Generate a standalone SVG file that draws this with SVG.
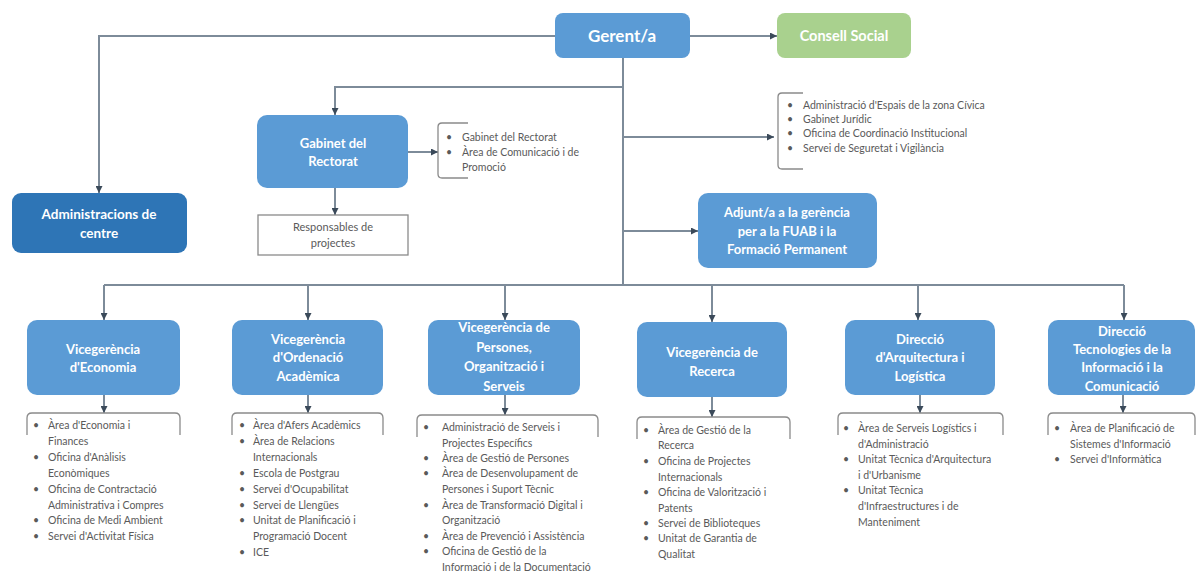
<svg xmlns="http://www.w3.org/2000/svg" width="1197" height="574" viewBox="0 0 1197 574">
<style>
.box{fill:#5b9bd5}
.dark{fill:#2e75b6}
.green{fill:#a9d18e}
.t{font-family:Lato,"Open Sans","Liberation Sans",sans-serif;font-weight:bold;fill:#ffffff;text-anchor:middle;font-size:13px}
.li{font-family:Lato,"Open Sans","Liberation Sans",sans-serif;fill:#5a5a5a;font-size:10.5px}
.con{fill:none;stroke:#7d8b99;stroke-width:2}
.br{fill:none;stroke:#8a8a8a;stroke-width:1.3}
.wbox{fill:#ffffff;stroke:#8a8a8a;stroke-width:1.3}
</style>
<defs>
<marker id="ah" viewBox="0 0 10 10" refX="10" refY="5" markerWidth="7" markerHeight="7" markerUnits="userSpaceOnUse" orient="auto">
<path d="M0,0 L10,5 L0,10 z" fill="#3b4a5a"/>
</marker>
</defs>
<rect width="1197" height="574" fill="#ffffff"/>
<g id="connectors">
<path class="con" d="M555,36 L99,36 L99,193" marker-end="url(#ah)"/>
<path class="con" d="M690,36 L777,36" marker-end="url(#ah)"/>
<path class="con" d="M623,58 L623,285"/>
<path class="con" d="M623,87 L335,87 L335,115" marker-end="url(#ah)"/>
<path class="con" d="M623,137 L774,137" marker-end="url(#ah)"/>
<path class="con" d="M623,231 L698,231" marker-end="url(#ah)"/>
<path class="con" d="M408,152 L438,152" marker-end="url(#ah)"/>
<path class="con" d="M335,188 L335,215" marker-end="url(#ah)"/>
<path class="con" d="M104,285 L1124,285"/>
<path class="con" d="M104,285 L104,320" marker-end="url(#ah)"/>
<path class="con" d="M308,285 L308,320" marker-end="url(#ah)"/>
<path class="con" d="M505,285 L505,320" marker-end="url(#ah)"/>
<path class="con" d="M712,285 L712,322" marker-end="url(#ah)"/>
<path class="con" d="M918,285 L918,320" marker-end="url(#ah)"/>
<path class="con" d="M1124,285 L1124,320" marker-end="url(#ah)"/>
<path class="con" d="M104,395 L104,413" marker-end="url(#ah)"/>
<path class="con" d="M308,395 L308,413" marker-end="url(#ah)"/>
<path class="con" d="M505,395 L505,415" marker-end="url(#ah)"/>
<path class="con" d="M712,397 L712,417" marker-end="url(#ah)"/>
<path class="con" d="M920,395 L920,413" marker-end="url(#ah)"/>
<path class="con" d="M1123,395 L1123,413" marker-end="url(#ah)"/>
</g>
<g id="gerent">
<rect class="box" x="555" y="13" width="135" height="45" rx="8"/>
<text class="t" x="622" y="42" style="font-size:17px">Gerent/a</text>
</g>
<g id="consell">
<rect class="green" x="777" y="13" width="134" height="45" rx="8"/>
<text class="t" x="844" y="41" style="font-size:14.5px">Consell Social</text>
</g>
<g id="administracions">
<rect class="dark" x="12" y="193" width="175" height="60" rx="9"/>
<text class="t" x="99" y="219" style="font-size:13.5px">Administracions de</text>
<text class="t" x="99" y="238" style="font-size:13.5px">centre</text>
</g>
<g id="gabinet">
<rect class="box" x="257" y="115" width="151" height="73" rx="10"/>
<text class="t" x="333" y="148">Gabinet del</text>
<text class="t" x="333" y="166">Rectorat</text>
</g>
<g id="gabinet-list">
<path class="br" d="M468,123 L442,123 Q438,123 438,127 L438,174 Q438,178 442,178 L468,178"/>
<text class="li"><tspan x="446" y="141">•</tspan><tspan x="462" y="141">Gabinet del Rectorat</tspan><tspan x="446" y="156">•</tspan><tspan x="462" y="156">Àrea de Comunicació i de</tspan><tspan x="462" y="171">Promoció</tspan></text>
</g>
<g id="responsables">
<rect class="wbox" x="258" y="215" width="150" height="40"/>
<text class="li" x="333" y="231" style="text-anchor:middle;font-size:11px">Responsables de</text>
<text class="li" x="333" y="247" style="text-anchor:middle;font-size:11px">projectes</text>
</g>
<g id="admin-list">
<path class="br" d="M803,93 L782,93 Q778,93 778,97 L778,165 Q778,169 782,169 L803,169"/>
<text class="li"><tspan x="787" y="109">•</tspan><tspan x="803" y="109">Administració d'Espais de la zona Cívica</tspan><tspan x="787" y="123">•</tspan><tspan x="803" y="123">Gabinet Jurídic</tspan><tspan x="787" y="137">•</tspan><tspan x="803" y="137">Oficina de Coordinació Institucional</tspan><tspan x="787" y="152">•</tspan><tspan x="803" y="152">Servei de Seguretat i Vigilància</tspan></text>
</g>
<g id="adjunt">
<rect class="box" x="698" y="193" width="179" height="75" rx="10"/>
<text class="t" x="787" y="217">Adjunt/a a la gerència</text>
<text class="t" x="787" y="236">per a la FUAB i la</text>
<text class="t" x="787" y="254">Formació Permanent</text>
</g>
<g id="vice-economia">
<rect class="box" x="27" y="320" width="153" height="75" rx="10"/>
<text class="t" x="103" y="354">Vicegerència</text>
<text class="t" x="103" y="372">d'Economia</text>
<path class="br" d="M27,435 L27,418 Q27,413 32,413 L175,413 Q180,413 180,418 L180,435"/>
<text class="li"><tspan x="33" y="429">•</tspan><tspan x="48" y="429">Àrea d'Economia i</tspan><tspan x="48" y="445">Finances</tspan><tspan x="33" y="461">•</tspan><tspan x="48" y="461">Oficina d'Anàlisis</tspan><tspan x="48" y="477">Econòmiques</tspan><tspan x="33" y="493">•</tspan><tspan x="48" y="493">Oficina de Contractació</tspan><tspan x="48" y="509">Administrativa i Compres</tspan><tspan x="33" y="524">•</tspan><tspan x="48" y="524">Oficina de Medi Ambient</tspan><tspan x="33" y="540">•</tspan><tspan x="48" y="540">Servei d'Activitat Física</tspan></text>
</g>
<g id="vice-ordenacio">
<rect class="box" x="232" y="320" width="151" height="75" rx="10"/>
<text class="t" x="308" y="344">Vicegerència</text>
<text class="t" x="308" y="362">d'Ordenació</text>
<text class="t" x="308" y="381">Acadèmica</text>
<path class="br" d="M232,435 L232,418 Q232,413 237,413 L378,413 Q383,413 383,418 L383,435"/>
<text class="li"><tspan x="239" y="429">•</tspan><tspan x="253" y="429">Àrea d'Afers Acadèmics</tspan><tspan x="239" y="445">•</tspan><tspan x="253" y="445">Àrea de Relacions</tspan><tspan x="253" y="461">Internacionals</tspan><tspan x="239" y="477">•</tspan><tspan x="253" y="477">Escola de Postgrau</tspan><tspan x="239" y="493">•</tspan><tspan x="253" y="493">Servei d'Ocupabilitat</tspan><tspan x="239" y="509">•</tspan><tspan x="253" y="509">Servei de Llengües</tspan><tspan x="239" y="524">•</tspan><tspan x="253" y="524">Unitat de Planificació i</tspan><tspan x="253" y="540">Programació Docent</tspan><tspan x="239" y="556">•</tspan><tspan x="253" y="556">ICE</tspan></text>
</g>
<g id="vice-persones">
<rect class="box" x="428" y="320" width="152" height="75" rx="10"/>
<text class="t" x="504" y="332">Vicegerència de</text>
<text class="t" x="504" y="352">Persones,</text>
<text class="t" x="504" y="371">Organització i</text>
<text class="t" x="504" y="391">Serveis</text>
<path class="br" d="M417,437 L417,420 Q417,415 422,415 L593,415 Q598,415 598,420 L598,437"/>
<text class="li"><tspan x="423" y="431">•</tspan><tspan x="442" y="431">Administració de Serveis i</tspan><tspan x="442" y="447">Projectes Específics</tspan><tspan x="423" y="462">•</tspan><tspan x="442" y="462">Àrea de Gestió de Persones</tspan><tspan x="423" y="477">•</tspan><tspan x="442" y="477">Àrea de Desenvolupament de</tspan><tspan x="442" y="493">Persones i Suport Tècnic</tspan><tspan x="423" y="509">•</tspan><tspan x="442" y="509">Àrea de Transformació Digital i</tspan><tspan x="442" y="524">Organització</tspan><tspan x="423" y="540">•</tspan><tspan x="442" y="540">Àrea de Prevenció i Assistència</tspan><tspan x="423" y="555">•</tspan><tspan x="442" y="555">Oficina de Gestió de la</tspan><tspan x="442" y="571">Informació i de la Documentació</tspan></text>
</g>
<g id="vice-recerca">
<rect class="box" x="637" y="322" width="150" height="75" rx="10"/>
<text class="t" x="712" y="357">Vicegerència de</text>
<text class="t" x="712" y="376">Recerca</text>
<path class="br" d="M637,439 L637,422 Q637,417 642,417 L785,417 Q790,417 790,422 L790,439"/>
<text class="li"><tspan x="643" y="434">•</tspan><tspan x="658" y="434">Àrea de Gestió de la</tspan><tspan x="658" y="449">Recerca</tspan><tspan x="643" y="465">•</tspan><tspan x="658" y="465">Oficina de Projectes</tspan><tspan x="658" y="481">Internacionals</tspan><tspan x="643" y="496">•</tspan><tspan x="658" y="496">Oficina de Valorització i</tspan><tspan x="658" y="512">Patents</tspan><tspan x="643" y="527">•</tspan><tspan x="658" y="527">Servei de Biblioteques</tspan><tspan x="643" y="542">•</tspan><tspan x="658" y="542">Unitat de Garantia de</tspan><tspan x="658" y="558">Qualitat</tspan></text>
</g>
<g id="direccio-arquitectura">
<rect class="box" x="845" y="320" width="150" height="75" rx="10"/>
<text class="t" x="920" y="344">Direcció</text>
<text class="t" x="920" y="362">d'Arquitectura i</text>
<text class="t" x="920" y="381">Logística</text>
<path class="br" d="M838,435 L838,418 Q838,413 843,413 L998,413 Q1003,413 1003,418 L1003,435"/>
<text class="li"><tspan x="843" y="432">•</tspan><tspan x="858" y="432">Àrea de Serveis Logístics i</tspan><tspan x="858" y="448">d'Administració</tspan><tspan x="843" y="463">•</tspan><tspan x="858" y="463">Unitat Tècnica d'Arquitectura</tspan><tspan x="858" y="479">i d'Urbanisme</tspan><tspan x="843" y="494">•</tspan><tspan x="858" y="494">Unitat Tècnica</tspan><tspan x="858" y="510">d'Infraestructures i de</tspan><tspan x="858" y="526">Manteniment</tspan></text>
</g>
<g id="direccio-tic">
<rect class="box" x="1048" y="320" width="147" height="75" rx="10"/>
<text class="t" x="1122" y="336">Direcció</text>
<text class="t" x="1122" y="354">Tecnologies de la</text>
<text class="t" x="1122" y="372">Informació i la</text>
<text class="t" x="1122" y="391">Comunicació</text>
<path class="br" d="M1048,435 L1048,418 Q1048,413 1053,413 L1190,413 Q1195,413 1195,418 L1195,435"/>
<text class="li"><tspan x="1054" y="432">•</tspan><tspan x="1070" y="432">Àrea de Planificació de</tspan><tspan x="1070" y="448">Sistemes d'Informació</tspan><tspan x="1054" y="463">•</tspan><tspan x="1070" y="463">Servei d'Informàtica</tspan></text>
</g>
</svg>
